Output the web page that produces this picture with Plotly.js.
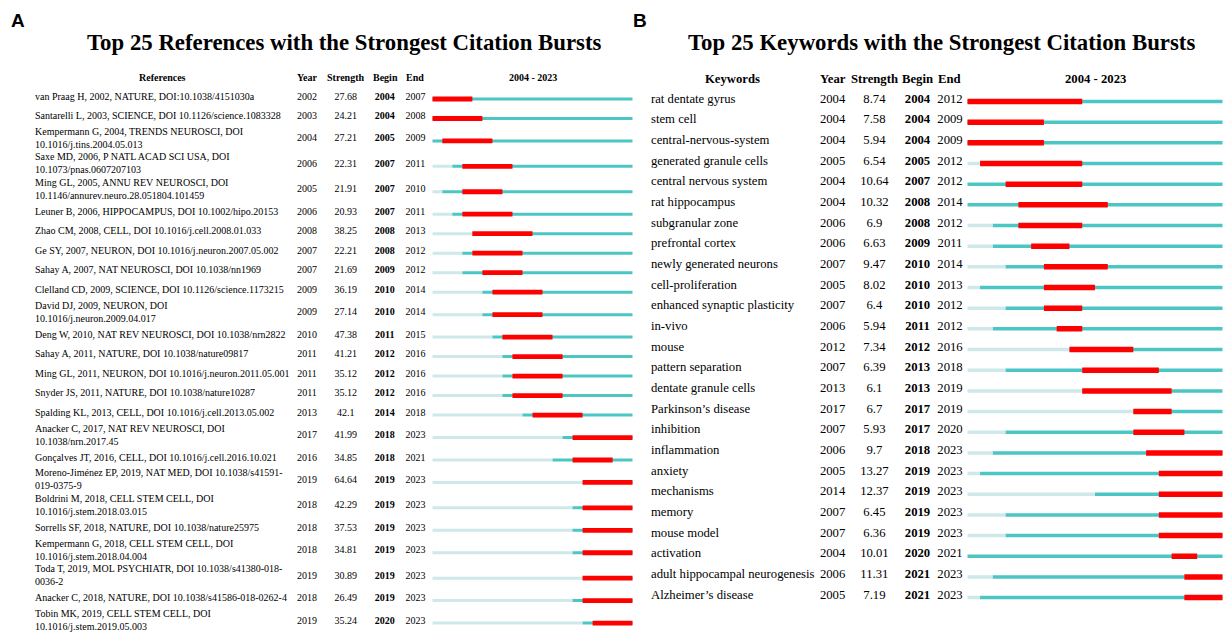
<!DOCTYPE html>
<html><head><meta charset="utf-8">
<script src="https://cdn.plot.ly/plotly-3.0.1.min.js"></script>
<style>html,body{margin:0;padding:0;background:#fff;}#chart{width:1225px;height:634px;}</style>
</head><body><div id="chart"></div>
<script>
// ---------- DATA ----------
const refLabels = [
  "van Praag H, 2002, NATURE, DOI:10.1038/4151030a",
  "Santarelli L, 2003, SCIENCE, DOI 10.1126/science.1083328",
  "Kempermann G, 2004, TRENDS NEUROSCI, DOI<br>10.1016/j.tins.2004.05.013",
  "Saxe MD, 2006, P NATL ACAD SCI USA, DOI<br>10.1073/pnas.0607207103",
  "Ming GL, 2005, ANNU REV NEUROSCI, DOI<br>10.1146/annurev.neuro.28.051804.101459",
  "Leuner B, 2006, HIPPOCAMPUS, DOI 10.1002/hipo.20153",
  "Zhao CM, 2008, CELL, DOI 10.1016/j.cell.2008.01.033",
  "Ge SY, 2007, NEURON, DOI 10.1016/j.neuron.2007.05.002",
  "Sahay A, 2007, NAT NEUROSCI, DOI 10.1038/nn1969",
  "Clelland CD, 2009, SCIENCE, DOI 10.1126/science.1173215",
  "David DJ, 2009, NEURON, DOI<br>10.1016/j.neuron.2009.04.017",
  "Deng W, 2010, NAT REV NEUROSCI, DOI 10.1038/nrn2822",
  "Sahay A, 2011, NATURE, DOI 10.1038/nature09817",
  "Ming GL, 2011, NEURON, DOI 10.1016/j.neuron.2011.05.001",
  "Snyder JS, 2011, NATURE, DOI 10.1038/nature10287",
  "Spalding KL, 2013, CELL, DOI 10.1016/j.cell.2013.05.002",
  "Anacker C, 2017, NAT REV NEUROSCI, DOI<br>10.1038/nrn.2017.45",
  "Gonçalves JT, 2016, CELL, DOI 10.1016/j.cell.2016.10.021",
  "Moreno-Jiménez EP, 2019, NAT MED, DOI 10.1038/s41591-<br>019-0375-9",
  "Boldrini M, 2018, CELL STEM CELL, DOI<br>10.1016/j.stem.2018.03.015",
  "Sorrells SF, 2018, NATURE, DOI 10.1038/nature25975",
  "Kempermann G, 2018, CELL STEM CELL, DOI<br>10.1016/j.stem.2018.04.004",
  "Toda T, 2019, MOL PSYCHIATR, DOI 10.1038/s41380-018-<br>0036-2",
  "Anacker C, 2018, NATURE, DOI 10.1038/s41586-018-0262-4",
  "Tobin MK, 2019, CELL STEM CELL, DOI<br>10.1016/j.stem.2019.05.003"
];
const refYear = [2002,2003,2004,2006,2005,2006,2008,2007,2007,2009,2009,2010,2011,2011,2011,2013,2017,2016,2019,2018,2018,2018,2019,2018,2019];
const refStrength = [27.68,24.21,27.21,22.31,21.91,20.93,38.25,22.21,21.69,36.19,27.14,47.38,41.21,35.12,35.12,42.1,41.99,34.85,64.64,42.29,37.53,34.81,30.89,26.49,35.24];
const refBegin = [2004,2004,2005,2007,2007,2007,2008,2008,2009,2010,2010,2011,2012,2012,2012,2014,2018,2018,2019,2019,2019,2019,2019,2019,2020];
const refEnd = [2007,2008,2009,2011,2010,2011,2013,2012,2012,2014,2014,2015,2016,2016,2016,2018,2023,2021,2023,2023,2023,2023,2023,2023,2023];

const kwLabels = [
  "rat dentate gyrus","stem cell","central-nervous-system","generated granule cells",
  "central nervous system","rat hippocampus","subgranular zone","prefrontal cortex",
  "newly generated neurons","cell-proliferation","enhanced synaptic plasticity","in-vivo",
  "mouse","pattern separation","dentate granule cells","Parkinson’s disease",
  "inhibition","inflammation","anxiety","mechanisms","memory","mouse model",
  "activation","adult hippocampal neurogenesis","Alzheimer’s disease"
];
const kwYear = [2004,2004,2004,2005,2004,2004,2006,2006,2007,2005,2007,2006,2012,2007,2013,2017,2007,2006,2005,2014,2007,2007,2004,2006,2005];
const kwStrength = [8.74,7.58,5.94,6.54,10.64,10.32,6.9,6.63,9.47,8.02,6.4,5.94,7.34,6.39,6.1,6.7,5.93,9.7,13.27,12.37,6.45,6.36,10.01,11.31,7.19];
const kwBegin = [2004,2004,2004,2005,2007,2008,2008,2009,2010,2010,2010,2011,2012,2013,2013,2017,2017,2018,2019,2019,2019,2019,2020,2021,2021];
const kwEnd = [2012,2009,2009,2012,2012,2014,2012,2011,2014,2013,2012,2012,2016,2018,2019,2019,2020,2023,2023,2023,2023,2023,2021,2023,2023];

const spanStart = 2004, spanEnd = 2023;
const headers = ["Year","Strength","Begin","End"];

// ---------- LAYOUT HELPERS ----------
const W = 1225, H = 634;
const SERIF = '"Liberation Serif", "Times New Roman", Times, serif';
const SANS = '"Liberation Sans", Arial, sans-serif';
const INK = '#000000';
const PALE = '#cfe8e9', TEAL = '#4cc5c5', RED = '#ff0000';

function varCenters(labels, first, h1, h2) {
  const out = []; let y = first, prev = null;
  labels.forEach(l => {
    const h = l.includes('<br>') ? h2 : h1;
    if (prev !== null) y += (prev + h) / 2;
    out.push(y); prev = h;
  });
  return out;
}
const refY = varCenters(refLabels, 97, 19.5, 25.4);
const kwY = kwLabels.map((_, i) => 99.5 + i * 20.67);

function timeline(years, begins, ends, ys, xa, thin, thick, dy) {
  const pale = {x: [], base: [], y: []}, teal = {x: [], base: [], y: []}, red = {x: [], base: [], y: []};
  years.forEach((yr, i) => {
    const yy = ys[i] + dy;
    if (yr > spanStart) { pale.base.push(spanStart); pale.x.push(yr - spanStart); pale.y.push(yy); }
    const ts = Math.max(yr, spanStart);
    teal.base.push(ts); teal.x.push(spanEnd + 1 - ts); teal.y.push(yy);
    red.base.push(begins[i]); red.x.push(ends[i] + 1 - begins[i]); red.y.push(yy);
  });
  const mk = (d, c, w) => ({type: 'bar', orientation: 'h', x: d.x, base: d.base, y: d.y, width: w,
    marker: {color: c, line: {width: 0}}, xaxis: xa, yaxis: 'y', hoverinfo: 'skip', showlegend: false});
  return [mk(pale, PALE, thin), mk(teal, TEAL, thin), mk(red, RED, thick)];
}

function col(xpos, ys, texts, size, pos, bold) {
  return {type: 'scatter', mode: 'text', x: ys.map(() => xpos), y: ys, text: texts,
    textposition: pos, textfont: {family: SERIF, size: size, color: INK, weight: bold ? 'bold' : 'normal'},
    xaxis: 'x3', yaxis: 'y', hoverinfo: 'skip', showlegend: false, cliponaxis: false};
}

const traces = [
  ...timeline(refYear, refBegin, refEnd, refY, 'x', 3, 4.8, 2),
  ...timeline(kwYear, kwBegin, kwEnd, kwY, 'x2', 3.5, 5.5, 2),
  col(35, refY, refLabels, 10, 'middle right', false),
  col(307, refY, refYear.map(String), 10, 'middle center', false),
  col(345.7, refY, refStrength.map(String), 10, 'middle center', false),
  col(384.7, refY, refBegin.map(String), 10, 'middle center', true),
  col(415.4, refY, refEnd.map(String), 10, 'middle center', false),
  col(651, kwY, kwLabels, 12.7, 'middle right', false),
  col(832.6, kwY, kwYear.map(String), 12.7, 'middle center', false),
  col(874.4, kwY, kwStrength.map(String), 12.7, 'middle center', false),
  col(917.5, kwY, kwBegin.map(String), 12.7, 'middle center', true),
  col(950, kwY, kwEnd.map(String), 12.7, 'middle center', false)
];

function ann(x, y, text, size, fam, bold, anchor) {
  return {xref: 'x3', yref: 'y', x: x, y: y, text: bold ? '<b>' + text + '</b>' : text, showarrow: false,
    xanchor: anchor || 'center', yanchor: 'middle', font: {family: fam, size: size, color: INK}};
}
const spanLabel = spanStart + ' - ' + spanEnd;
const refCols = [307.3, 345.8, 385, 415.2];
const kwCols = [832.8, 874.2, 917.5, 949.7];
const annotations = [
  ann(18, 20, 'A', 19, SANS, true),
  ann(640, 20, 'B', 19, SANS, true),
  ann(344, 42.5, 'Top 25 References with the Strongest Citation Bursts', 22.8, SERIF, true),
  ann(941, 42.5, 'Top 25 Keywords with the Strongest Citation Bursts', 22.8, SERIF, true),
  ann(162, 77, 'References', 10, SERIF, true),
  ann(532.5, 77, spanLabel, 10, SERIF, true),
  ann(732, 79.3, 'Keywords', 12.7, SERIF, true),
  ann(1095, 79.3, spanLabel, 12.7, SERIF, true),
  ...headers.map((h, i) => ann(refCols[i], 77, h, 10, SERIF, true)),
  ...headers.map((h, i) => ann(kwCols[i], 79.3, h, 12.7, SERIF, true))
];

const hidden = {visible: false, fixedrange: true, showgrid: false, zeroline: false};
const layout = {
  width: W, height: H, margin: {l: 0, r: 0, t: 0, b: 0},
  paper_bgcolor: '#ffffff', plot_bgcolor: 'rgba(0,0,0,0)',
  barmode: 'overlay', showlegend: false,
  xaxis: {...hidden, domain: [432.3 / W, 632.7 / W], range: [spanStart, spanEnd + 1], anchor: 'y'},
  xaxis2: {...hidden, domain: [967.3 / W, 1222.7 / W], range: [spanStart, spanEnd + 1], anchor: 'y'},
  xaxis3: {...hidden, domain: [0, 1], range: [0, W], anchor: 'y'},
  yaxis: {...hidden, domain: [0, 1], range: [H, 0]},
  annotations: annotations
};
Plotly.newPlot('chart', traces, layout, {staticPlot: true, displayModeBar: false});
</script></body></html>
